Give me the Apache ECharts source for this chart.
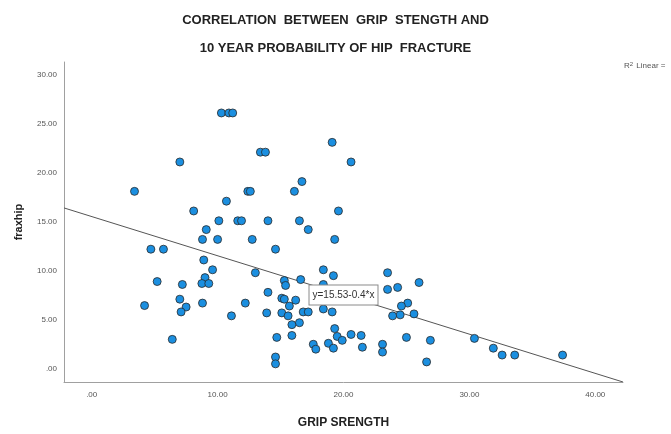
<!DOCTYPE html>
<html>
<head>
<meta charset="utf-8">
<script src="https://cdn.jsdelivr.net/npm/echarts@6/dist/echarts.min.js"></script>
<style>html,body{margin:0;padding:0;background:#fff;}#c{width:671px;height:434px;}</style>
</head>
<body>
<div id="c"></div>
<script>
// Grip strength (x) and fraxhip (y)
var gripStrength = [10.3,10.9,11.2,13.4,13.8,7.0,3.4,12.4,12.6,10.7,8.1,10.1,11.6,11.9,14.0,9.1,8.8,10.0,12.75,19.1,20.6,16.7,16.1,19.6,16.5,17.2,19.3,
  4.7,5.7,14.6,8.9,9.6,13.0,5.2,7.2,9.0,8.75,9.3,14.0,7.0,7.5,7.1,4.2,8.8,12.2,11.1,13.9,6.4,14.7,14.6,14.6,
  23.5,26.0,18.4,19.2,15.3,15.4,16.6,18.4,15.1,15.3,16.2,15.7,21.5,23.5,24.3,25.1,24.6,24.5,23.9,25.6,15.1,15.6,16.8,17.2,18.4,19.1,15.9,16.5,15.9,19.3,19.5,19.9,20.6,21.4,17.6,17.8,18.8,19.2,21.5,23.1,23.1,25.0,26.9,26.6,
  30.4,31.9,32.6,33.6,37.4];
var fraxhip = [26.1,26.1,26.1,22.1,22.1,21.1,18.1,18.1,18.1,17.1,16.1,15.1,15.1,15.1,15.1,14.2,13.2,13.2,13.2,23.1,21.1,19.1,18.1,16.1,15.1,14.2,13.2,
  12.2,12.2,12.2,11.1,10.1,9.8,8.9,8.6,9.3,8.7,8.7,7.8,7.1,6.3,5.8,6.45,6.7,6.7,5.4,5.7,3.0,3.2,1.2,0.5,
  9.8,8.8,10.1,9.5,9.0,8.5,9.1,8.6,7.2,7.1,7.0,6.4,7.0,8.1,8.3,6.7,6.4,5.5,5.4,5.6,5.7,5.4,5.8,5.8,6.1,5.8,4.5,4.7,3.4,4.1,3.3,2.9,3.5,3.4,2.5,2.0,2.6,2.1,2.2,2.5,1.7,3.2,2.9,0.7,
  3.1,2.1,1.4,1.4,1.4];
var xTicks = [0, 10, 20, 30, 40];
var yTicks = [0, 5, 10, 15, 20, 25, 30];
var fitIntercept = 15.53;
var fitSlope = -0.4;
var xRange = [-2.2, 42.2];
var yRange = [-1.35, 31.3];

var points = gripStrength.map(function (x, i) { return [x, fraxhip[i]]; });
var fitLine = xRange.map(function (x) { return [x, fitIntercept + fitSlope * x]; });
var labelX = 20;

function fmt(v) { return v === 0 ? '.00' : v.toFixed(2); }

var chart = echarts.init(document.getElementById('c'), null, {renderer: 'canvas'});
chart.setOption({
  animation: false,
  backgroundColor: '#fff',
  textStyle: {fontFamily: 'Liberation Sans, Arial, sans-serif'},
  title: {
    text: 'CORRELATION  BETWEEN  GRIP  STENGTH AND\n10 YEAR PROBABILITY OF HIP  FRACTURE',
    left: 'center',
    top: 1,
    textStyle: {fontSize: 13, fontWeight: 'bold', color: '#222', lineHeight: 28, fontFamily: 'Liberation Sans, Arial, sans-serif'}
  },
  grid: {left: 64, right: 48, top: 62, bottom: 50},
  xAxis: {
    type: 'value', min: xRange[0], max: xRange[1],
    name: 'GRIP SRENGTH', nameLocation: 'middle', nameGap: 35,
    nameTextStyle: {fontSize: 12, fontWeight: 'bold', color: '#222'},
    axisLine: {show: true, onZero: false, lineStyle: {color: '#a0a0a0', width: 1}},
    axisTick: {show: false},
    splitLine: {show: false},
    axisLabel: {customValues: xTicks, formatter: fmt, fontSize: 8, color: '#555', margin: 9}
  },
  yAxis: {
    type: 'value', min: yRange[0], max: yRange[1],
    name: 'fraxhip', nameLocation: 'middle', nameGap: 40, nameRotate: 90,
    nameTextStyle: {fontSize: 11, fontWeight: 'bold', color: '#222'},
    axisLine: {show: true, onZero: false, lineStyle: {color: '#a0a0a0', width: 1}},
    axisTick: {show: false},
    splitLine: {show: false},
    axisLabel: {customValues: yTicks, formatter: fmt, fontSize: 8, color: '#555', margin: 7}
  },
  series: [
    {
      type: 'line', data: fitLine, symbol: 'none', silent: true, z: 2,
      lineStyle: {color: '#555', width: 1}
    },
    {
      type: 'scatter', data: points, symbol: 'circle', symbolSize: 8, z: 3,
      itemStyle: {color: '#1b8fe0', borderColor: '#2a2a2a', borderWidth: 0.8, opacity: 1}
    },
    {
      type: 'scatter', data: [[labelX, fitIntercept + fitSlope * labelX]], symbolSize: 0, z: 10, zlevel: 1,
      itemStyle: {opacity: 1},
      label: {
        show: true, position: 'inside', formatter: 'y=15.53-0.4*x',
        fontSize: 10, color: '#333', backgroundColor: '#fff',
        borderColor: '#8a8a8a', borderWidth: 1, padding: [5, 3, 4, 3]
      }
    }
  ],
  graphic: [
    {
      type: 'text', left: 624, top: 61,
      style: {
        text: 'R{sup|2} Linear =',
        fontSize: 8, fill: '#555', fontFamily: 'Liberation Sans, Arial, sans-serif',
        rich: {sup: {fontSize: 6, verticalAlign: 'top', padding: [0, 1, 4, 0]}}
      }
    }
  ]
});
</script>
</body>
</html>
